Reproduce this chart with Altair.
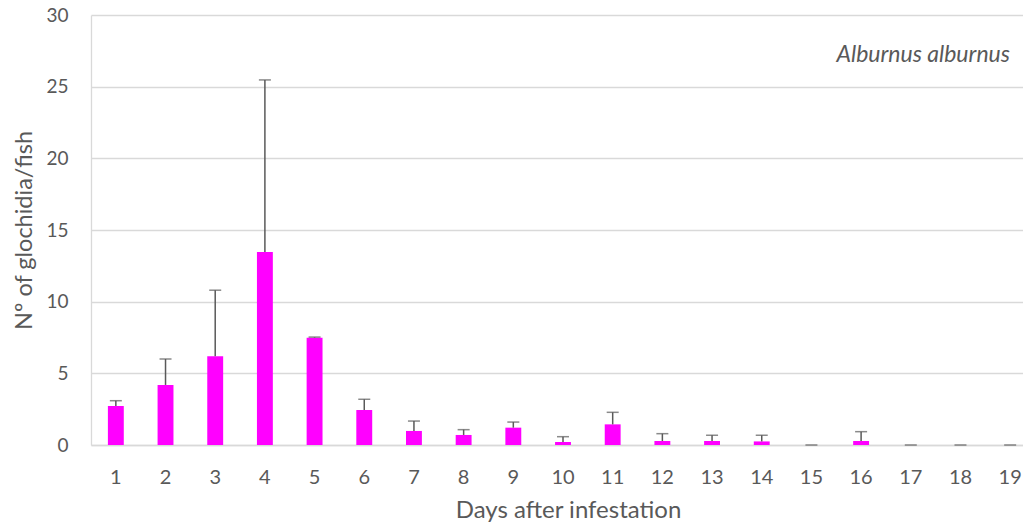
import altair as alt
import pandas as pd

days = [str(d) for d in range(1, 20)]
means = [2.72, 4.19, 6.2, 13.47, 7.49, 2.44, 0.98, 0.70, 1.21, 0.21,
         1.44, 0.28, 0.28, 0.25, 0.0, 0.28, 0.0, 0.0, 0.0]
errors = [0.37, 1.81, 4.6, 12.0, 0.04, 0.75, 0.69, 0.37, 0.39, 0.37,
          0.84, 0.51, 0.40, 0.43, 0.0, 0.65, 0.0, 0.0, 0.0]
species = ["Alburnus alburnus"]
y_ticks = [0, 5, 10, 15, 20, 25, 30]

df = pd.DataFrame({"day": days, "mean": means, "err": errors})
df["upper"] = df["mean"] + df["err"]

FONT = "Lato"
TXT = "#595959"
FS = 20

x_scale = alt.Scale(paddingInner=0.68, paddingOuter=0.34, range=[0, 944])
x_enc = alt.X("day:N", sort=days, scale=x_scale,
              axis=alt.Axis(title="Days after infestation", labelAngle=0,
                            ticks=False, grid=False, labelPadding=22,
                            labelFontSize=FS, titleFontSize=24,
                            titleX=477, titleY=72, titleBaseline="alphabetic",
                            titleAlign="center",
                            domainColor="#d9d9d9", domainWidth=1.5))
y_scale = alt.Scale(domain=[0, 30], nice=False, zero=True)

bars = alt.Chart(df).mark_bar(color="#FF00FF").encode(
    x=x_enc,
    y=alt.Y("mean:Q", scale=y_scale,
            axis=alt.Axis(title="Nº of glochidia/fish", values=y_ticks,
                          ticks=False, labelPadding=23, labelFontSize=19,
                          titleFontSize=23.5,
                          gridColor="#d9d9d9",
                          gridWidth=1.3, domainColor="#d9d9d9", domainWidth=1.3,
                          titleX=-60, titleY=215, titleAngle=270,
                          titleAlign="center", titleBaseline="alphabetic")),
)

rules = alt.Chart(df).mark_rule(color=TXT, strokeWidth=1.5).encode(
    x=alt.X("day:N", sort=days, scale=x_scale), y="mean:Q", y2="upper:Q"
)
caps = alt.Chart(df).mark_tick(color=TXT, size=12, thickness=1.5).encode(
    x=alt.X("day:N", sort=days, scale=x_scale),
    y=alt.Y("upper:Q", scale=y_scale)
)

label = alt.Chart(pd.DataFrame({"species": species})).mark_text(
    font=FONT, fontSize=23, fontStyle="italic", color=TXT,
    align="right", baseline="middle"
).encode(text="species:N", x=alt.value(919), y=alt.value(40))

chart = alt.layer(bars, rules, caps, label).properties(
    width=932, height=430,
    autosize=alt.AutoSizeParams(type="none"),
    padding={"left": 83, "top": 7, "right": 0, "bottom": 78},
).configure_view(stroke=None).configure_axis(
    labelFont=FONT, titleFont=FONT,
    labelColor=TXT, titleColor=TXT, titleFontWeight="normal",
)

chart.save("out.html", embed_options={"renderer": "svg", "actions": False})
